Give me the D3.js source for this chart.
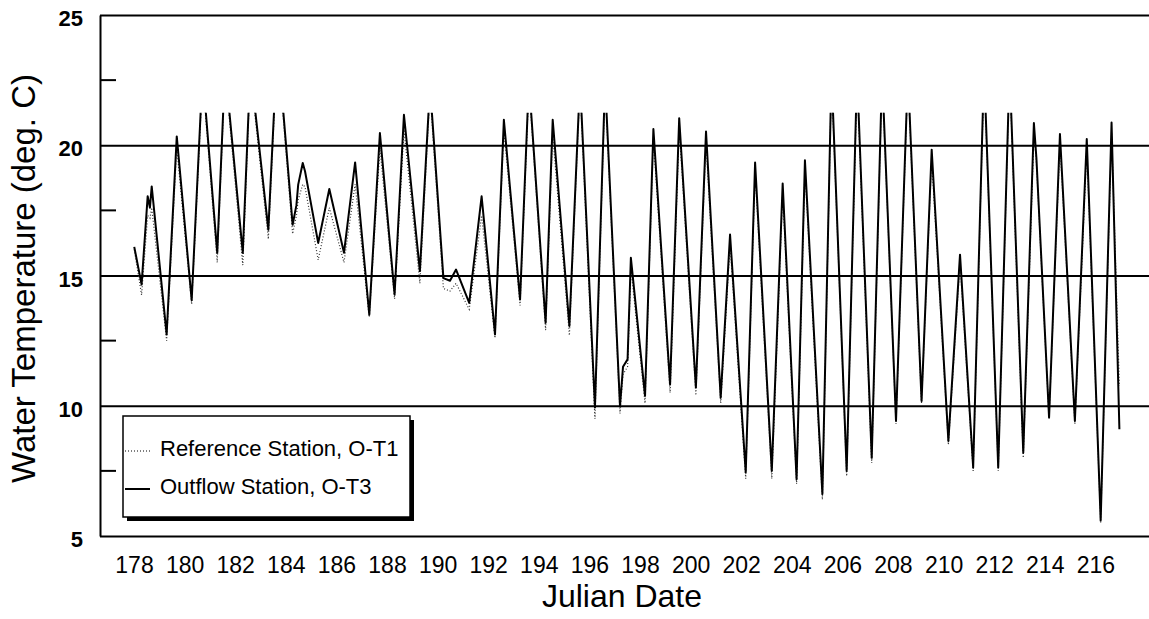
<!DOCTYPE html>
<html>
<head>
<meta charset="utf-8">
<script src="https://cdn.jsdelivr.net/npm/d3@7"></script>
<style>
  html, body { margin: 0; padding: 0; background: #fff; }
  svg { display: block; font-family: "Liberation Sans", Arial, Helvetica, sans-serif; }
</style>
</head>
<body>
<svg id="chart" width="1149" height="619"></svg>
<script>
// ---- data ----
const days = [
  178.01, 178.30, 178.54, 178.63, 178.70, 179.29, 179.69, 180.28, 180.71, 181.29,
  181.60, 182.30, 182.60, 183.31, 183.67, 184.27, 184.42, 184.49, 184.67, 184.76,
  185.28, 185.72, 186.30, 186.74, 187.30, 187.72, 188.30, 188.67, 189.30, 189.70,
  190.23, 190.49, 190.73, 191.25, 191.74, 192.27, 192.62, 193.26, 193.61, 194.27,
  194.55, 195.21, 195.63, 196.22, 196.62, 197.21, 197.33, 197.51, 197.64, 198.20,
  198.53, 199.19, 199.55, 200.21, 200.61, 201.19, 201.56, 202.18, 202.55, 203.21,
  203.64, 204.19, 204.52, 205.21, 205.57, 206.17, 206.58, 207.16, 207.57, 208.12,
  208.59, 209.13, 209.53, 210.19, 210.65, 211.17, 211.60, 212.16, 212.61, 213.15,
  213.57, 213.67, 214.17, 214.60, 215.19, 215.66, 216.21, 216.64, 216.95
];
const outflowT3 = [
  16.1, 14.65, 18.04, 17.6, 18.42, 12.74, 20.34, 14.05, 22.8, 15.87,
  23.0, 15.87, 23.0, 16.76, 24.0, 16.95, 17.7, 18.49, 19.32, 19.0,
  16.25, 18.32, 15.87, 19.34, 13.5, 20.47, 14.27, 21.17, 15.17, 22.3,
  14.9, 14.8, 15.23, 13.95, 18.04, 12.74, 20.98, 14.08, 22.5, 13.19,
  20.98, 13.06, 22.5, 9.93, 22.5, 9.99, 11.5, 11.78, 15.68, 10.38,
  20.62, 10.82, 21.04, 10.7, 20.53, 10.31, 16.57, 7.44, 19.34, 7.5,
  18.53, 7.18, 19.42, 6.61, 22.8, 7.5, 22.8, 8.0, 22.8, 9.42,
  22.8, 10.18, 19.83, 8.65, 15.8, 7.63, 23.0, 7.63, 23.0, 8.2,
  20.85, 19.5, 9.55, 20.43, 9.42, 20.24, 5.59, 20.87, 9.1
];
const referenceT1 = [
  16.0, 14.25, 17.3, 17.2, 17.6, 12.5, 19.9, 13.9, 22.6, 15.5,
  22.8, 15.4, 22.8, 16.4, 23.8, 16.6, 17.3, 17.9, 18.5, 18.4,
  15.6, 17.6, 15.5, 18.5, 13.4, 19.9, 14.1, 20.6, 14.7, 22.0,
  14.5, 14.4, 14.7, 13.7, 17.3, 12.6, 20.6, 13.85, 22.3, 12.9,
  20.4, 12.7, 22.3, 9.5, 22.3, 9.7, 11.2, 11.5, 15.3, 10.1,
  20.3, 10.5, 20.7, 10.4, 20.1, 10.1, 16.2, 7.2, 19.0, 7.2,
  18.2, 7.0, 19.1, 6.4, 22.6, 7.3, 22.6, 7.8, 22.6, 9.3,
  22.6, 10.1, 19.5, 8.5, 15.5, 7.5, 22.8, 7.5, 22.8, 8.0,
  20.5, 19.3, 9.5, 20.1, 9.3, 19.9, 5.5, 20.5, 10.76
];
const xTickValues = [178,180,182,184,186,188,190,192,194,196,198,200,202,204,206,208,210,212,214,216];
const yTickValues = [5, 10, 15, 20, 25];
const yMinorTicks = [7.5, 12.5, 17.5, 22.5];
const seriesNames = ["Reference Station, O-T1", "Outflow Station, O-T3"];
const xTitle = "Julian Date";
const yTitle = "Water Temperature (deg. C)";
const clipTop = 21.25;

(function () {
  // ---- layout ----
  const W = 1149, H = 619;
  const pL = 100, pR = 1149, pT = 15, pB = 536;

  const svg = d3.select("#chart");
  svg.append("rect").attr("width", W).attr("height", H).attr("fill", "#fff");

  const x = d3.scaleLinear().domain([176.656, 218.12]).range([pL, pR]);
  const y = d3.scaleLinear().domain([5, 25]).range([pB, pT]);

  // y axis with full-width grid lines
  const yAxis = d3.axisLeft(y).tickValues(yTickValues).tickSize(-(pR - pL)).tickSizeOuter(0).tickPadding(17);
  const gy = svg.append("g").attr("transform", `translate(${pL},0)`).call(yAxis);
  gy.selectAll(".tick line").attr("stroke", "#000").attr("stroke-width", 2);
  gy.select(".domain").attr("stroke", "#000").attr("stroke-width", 2);
  gy.selectAll(".tick text")
    .attr("fill", "#000").attr("font-size", 22).attr("font-weight", "bold")
    .attr("dy", null).attr("y", 10.5);

  // minor inward ticks
  svg.append("g").selectAll("line").data(yMinorTicks).join("line")
    .attr("x1", pL).attr("x2", pL + 16)
    .attr("y1", d => y(d)).attr("y2", d => y(d))
    .attr("stroke", "#000").attr("stroke-width", 2);

  // x axis labels
  const xAxis = d3.axisBottom(x).tickValues(xTickValues).tickSize(0).tickFormat(d3.format("d"));
  const gx = svg.append("g").attr("transform", `translate(0,${pB})`).call(xAxis);
  gx.select(".domain").remove();
  gx.selectAll(".tick text").attr("fill", "#000").attr("font-size", 23)
    .attr("dy", null).attr("y", 37);

  // clip for data
  svg.append("clipPath").attr("id", "plotclip").append("rect")
    .attr("x", pL).attr("y", y(clipTop)).attr("width", pR - pL).attr("height", pB - y(clipTop));

  const line = d3.line().x(d => x(d[0])).y(d => y(d[1]));
  const refData = days.map((d, i) => [d, referenceT1[i]]);
  const outData = days.map((d, i) => [d, outflowT3[i]]);

  const plot = svg.append("g").attr("clip-path", "url(#plotclip)");
  plot.append("path").datum(refData).attr("d", line)
    .attr("fill", "none").attr("stroke", "#333").attr("stroke-width", 1.2)
    .attr("stroke-dasharray", "1,2");
  plot.append("path").datum(outData).attr("d", line)
    .attr("fill", "none").attr("stroke", "#000").attr("stroke-width", 2).attr("stroke-linejoin", "round");

  // legend
  const lg = svg.append("g");
  const lx = 123, ly = 416, lw = 287, lh = 101;
  lg.append("rect").attr("x", lx + 4).attr("y", ly + 4).attr("width", lw).attr("height", lh).attr("fill", "#000");
  lg.append("rect").attr("x", lx).attr("y", ly).attr("width", lw).attr("height", lh)
    .attr("fill", "#fff").attr("stroke", "#000").attr("stroke-width", 1.5);
  const legendRows = [
    {name: seriesNames[0], yy: 451, dash: "1,2", sw: 1.2},
    {name: seriesNames[1], yy: 489, dash: null, sw: 2}
  ];
  legendRows.forEach(r => {
    lg.append("line").attr("x1", lx + 2).attr("x2", lx + 27).attr("y1", r.yy).attr("y2", r.yy)
      .attr("stroke", "#000").attr("stroke-width", r.sw).attr("stroke-dasharray", r.dash);
    lg.append("text").attr("x", 160).attr("y", r.yy + 5).attr("font-size", 22).attr("fill", "#000").text(r.name);
  });

  // axis titles
  svg.append("text").attr("x", 622).attr("y", 607).attr("text-anchor", "middle")
    .attr("font-size", 32).attr("fill", "#000").text(xTitle);
  svg.append("text").attr("transform", "translate(35,278.5) rotate(-90)").attr("text-anchor", "middle")
    .attr("font-size", 33).attr("fill", "#000").text(yTitle);
})();
</script>
</body>
</html>
